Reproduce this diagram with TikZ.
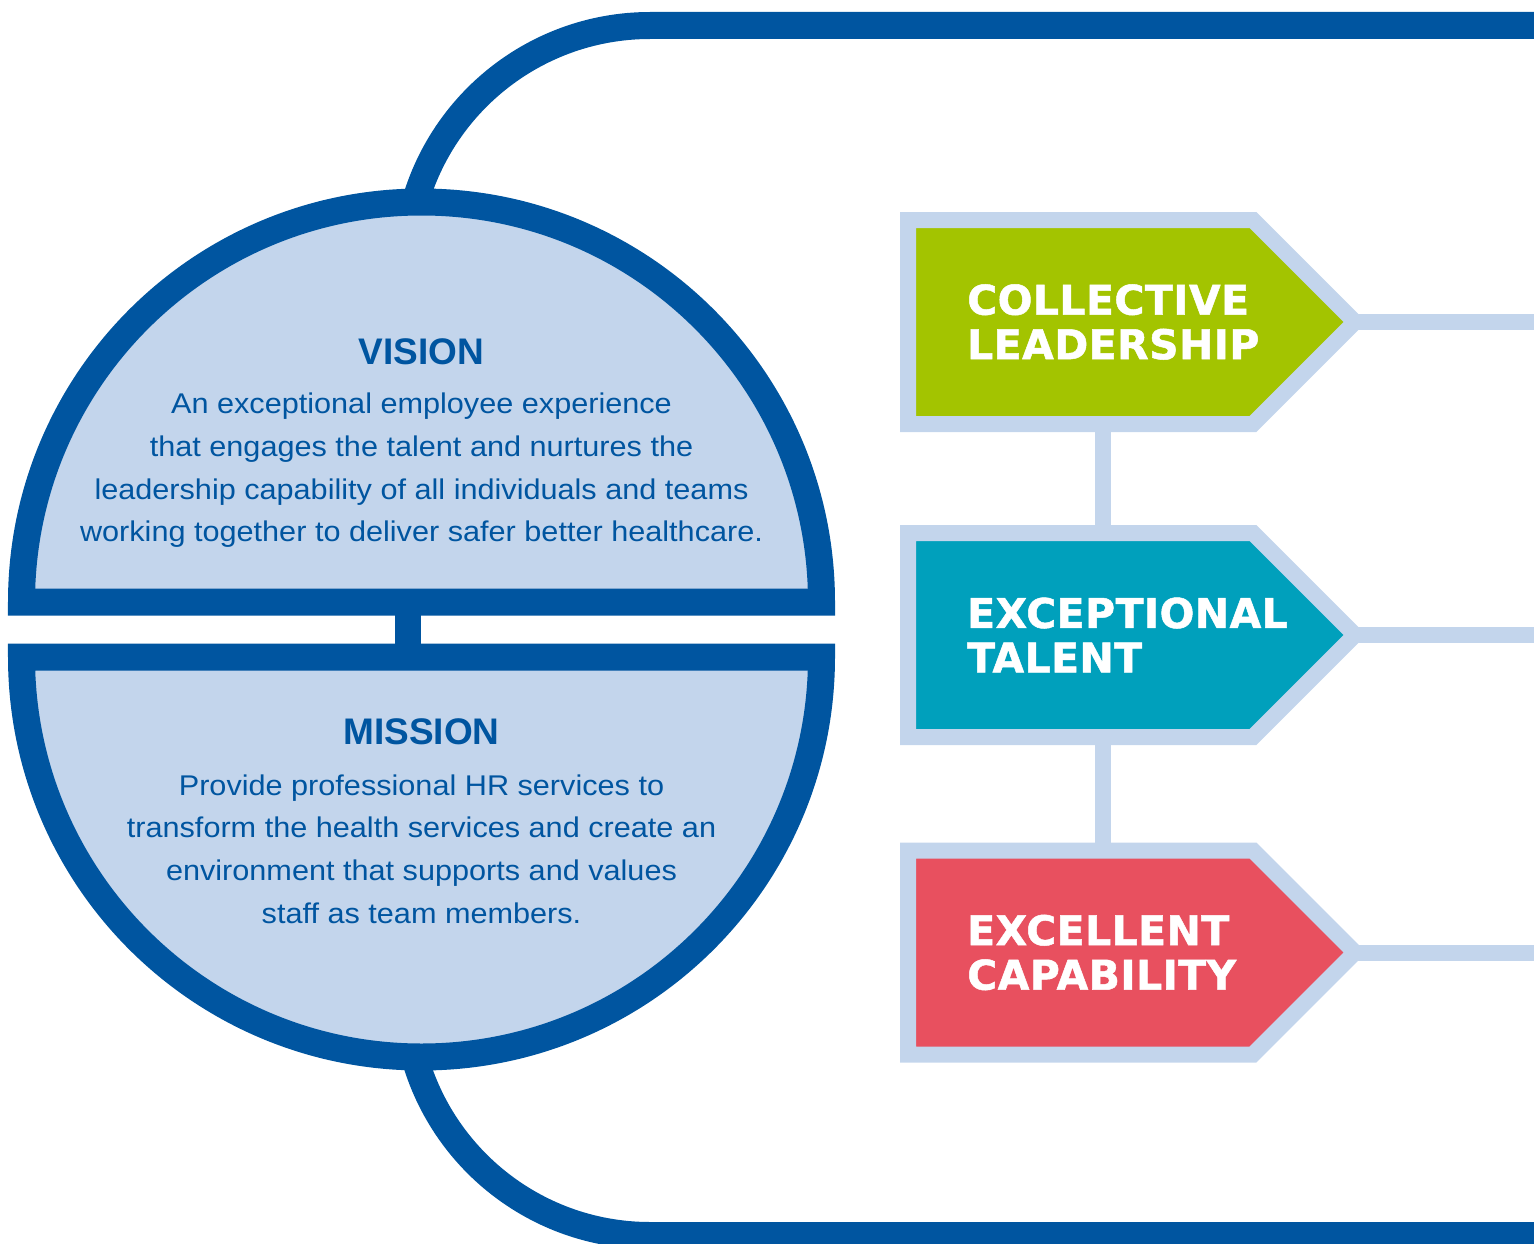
\documentclass[tikz,border=0pt]{standalone}
\usepackage{fontspec}
\newfontfamily\bodyfont{Liberation Sans}[FakeStretch=1.075]
\newfontfamily\headfont{Liberation Sans}
\newfontfamily\titlefont{DejaVu Sans}[FakeBold=1.2, LetterSpace=1]
\definecolor{dblue}{HTML}{0055A0}
\definecolor{lblue}{HTML}{C3D5EC}
\definecolor{cgreen}{HTML}{A3C400}
\definecolor{cteal}{HTML}{00A0BC}
\definecolor{cred}{HTML}{E8505F}
\tikzset{
  ring/.style={draw=dblue, line width=27pt, fill=lblue},
  bigloop/.style={draw=dblue, line width=27pt},
  vmlink/.style={draw=dblue, line width=26pt},
  link/.style={draw=lblue, line width=16pt},
  chevbox/.style={draw=lblue, line width=16pt},
  heading/.style={font=\headfont\bfseries\fontsize{37}{44}\selectfont, text=dblue, inner sep=0pt, anchor=base},
  body/.style={font=\bodyfont\fontsize{28.5}{42.8}\selectfont, text=dblue, align=center, inner sep=0pt, anchor=north},
  title/.style={font=\titlefont\bfseries\fontsize{41}{44.5}\selectfont, text=white, align=left, inner sep=0pt, anchor=west},
}
\begin{document}
\begin{tikzpicture}[x=1pt,y=-1pt]
\useasboundingbox (0,0) rectangle (1534,1244);
\clip (0,0) rectangle (1534,1244);
% outer loop
\coordinate (loopTR) at (1560,25.5);
\coordinate (loopBR) at (1560,1235.5);
\coordinate (loopT) at (650,25.5);
\coordinate (loopB) at (650,1235.5);
\draw[bigloop] (loopTR) -- (loopT) arc[start angle=270, end angle=190, radius=244.5];
\draw[bigloop] (loopBR) -- (loopB) arc[start angle=90, end angle=170, radius=244.5];
% link between halves
\coordinate (vm1) at (408,602);
\coordinate (vm2) at (408,657);
\draw[vmlink] (vm1) -- (vm2);
% halves
\draw[ring] (21.5,602) arc[start angle=180, end angle=360, radius=400] -- cycle;
\draw[ring] (21.5,657) arc[start angle=180, end angle=0, radius=400] -- cycle;
% texts
\node[heading] (vision) at (421.5,364) {VISION};
\node[body] (visiontext) at (421.5,392.6) {An exceptional employee experience\\that engages the talent and nurtures the\\leadership capability of all individuals and teams\\working together to deliver safer better healthcare.};
\node[heading] (mission) at (421.5,744) {MISSION};
\node[body] (missiontext) at (421.5,774.2) {Provide professional HR services to\\transform the health services and create an\\environment that supports and values\\staff as team members.};
% connector coordinates
\coordinate (t1) at (1355,322);
\coordinate (t2) at (1355,635);
\coordinate (t3) at (1355,952.5);
\coordinate (e1) at (1560,322);
\coordinate (e2) at (1560,635);
\coordinate (e3) at (1560,952.5);
\coordinate (b1) at (1103,424);
\coordinate (a2) at (1103,533);
\coordinate (b2) at (1103,737);
\coordinate (a3) at (1103,850.5);
\draw[link] (b1) -- (a2);
\draw[link] (b2) -- (a3);
\draw[link] (t1) -- (e1);
\draw[link] (t2) -- (e2);
\draw[link] (t3) -- (e3);
% chevrons
\draw[chevbox, fill=cgreen] (908,220) -- (1253,220) -- (t1) -- (1253,424) -- (908,424) -- cycle;
\draw[chevbox, fill=cteal] (908,533) -- (1253,533) -- (t2) -- (1253,737) -- (908,737) -- cycle;
\draw[chevbox, fill=cred] (908,850.5) -- (1253,850.5) -- (t3) -- (1253,1054.5) -- (908,1054.5) -- cycle;
\node[title] (cl) at (967,322) {COLLECTIVE\\LEADERSHIP};
\node[title] (et) at (967,635) {EXCEPTIONAL\\TALENT};
\node[title] (ec) at (967,952.5) {EXCELLENT\\CAPABILITY};
\end{tikzpicture}
\end{document}
